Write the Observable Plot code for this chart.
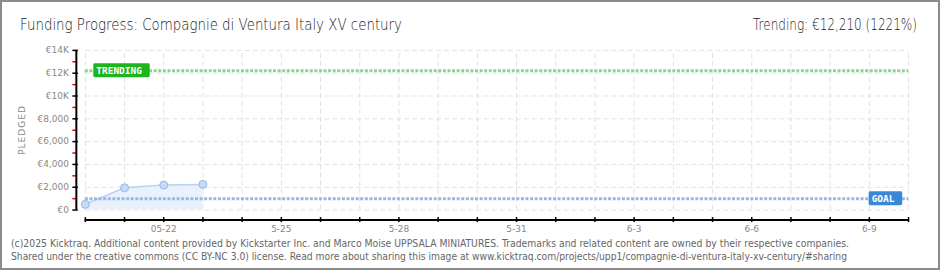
<!DOCTYPE html>
<html><head><meta charset="utf-8">
<script src="https://cdn.jsdelivr.net/npm/d3@7"></script>
<script src="https://cdn.jsdelivr.net/npm/@observablehq/plot@0.6"></script>
<style>
html,body{margin:0;padding:0;background:#fff;}
#wrap{position:relative;width:940px;height:270px;box-sizing:border-box;border:2px solid #8c8c8c;overflow:hidden;}
#chart{position:absolute;left:-2px;top:-2px;}
.t{position:absolute;white-space:nowrap;transform-origin:0 0;}
#title{left:18px;top:13px;font:200 16px "DejaVu Sans";color:#222;}
#trend{top:13px;font:200 16px "DejaVu Sans";color:#222;}
.foot{left:8px;font:10px "DejaVu Sans Condensed";color:#666;}
#ylab{font:9px "DejaVu Sans";color:#888;letter-spacing:1px;transform-origin:50% 50%;}
</style></head>
<body>
<div id="wrap">
<div id="chart"></div>
<div class="t" id="title">Funding Progress: Compagnie di Ventura Italy XV century</div>
<div class="t" id="trend">Trending: €12,210 (1221%)</div>
<div class="t foot" id="f1" style="top:236px">(c)2025 Kicktraq. Additional content provided by Kickstarter Inc. and Marco Moise UPPSALA MINIATURES. Trademarks and related content are owned by their respective companies.</div>
<div class="t foot" id="f2" style="top:249px">Shared under the creative commons (CC BY-NC 3.0) license. Read more about sharing this image at www.kicktraq.com/projects/upp1/compagnie-di-ventura-italy-xv-century/#sharing</div>
<div class="t" id="ylab">PLEDGED</div>
</div>
<script>
// ---- data ----
const dates = ["2025-05-20","2025-05-21","2025-05-22","2025-05-23"];
const pledged = [500, 1950, 2190, 2250];
const goal = 1000;
const trending = 12210;
const xStart = "2025-05-20";
const xEnd = "2025-06-10";
const xTickDates = ["2025-05-22","2025-05-25","2025-05-28","2025-05-31","2025-06-03","2025-06-06","2025-06-09"];
const xTickLabels = ["05-22","5-25","5-28","5-31","6-3","6-6","6-9"];
const yTicks = [0,2000,4000,6000,8000,10000,12000,14000];
const yTickLabels = ["€0","€2,000","€4,000","€6,000","€8,000","€10K","€12K","€14K"];
const yMinorTicks = [1000,3000,5000,7000,9000,11000,13000];

const parse = d3.utcParse("%Y-%m-%d");
const data = dates.map((d,i)=>({date:parse(d), value:pledged[i]}));
const x0 = parse(xStart), x1 = parse(xEnd);
const allDays = d3.utcDay.range(x0, d3.utcDay.offset(x1,1));
const xLabelMap = new Map(xTickDates.map((d,i)=>[+parse(d), xTickLabels[i]]));
const yLabelMap = new Map(yTicks.map((v,i)=>[v, yTickLabels[i]]));

const grid = {stroke:"#e2e2e2", strokeDasharray:"5,3", strokeWidth:1};
const tickFont = {fontFamily:"DejaVu Sans", fontSize:9, fill:"#888"};

const chart = Plot.plot({
  width: 940, height: 270,
  marginLeft: 76, marginRight: 30, marginTop: 50, marginBottom: 50,
  insetLeft: 9, insetBottom: 10,
  x: {type:"utc", domain:[x0, x1], label:null},
  y: {domain:[0,14000], label:null},
  style: {background:"transparent", overflow:"visible"},
  marks: [
    Plot.ruleX(allDays, {y1:0, y2:14000, ...grid}),
    Plot.ruleY(yTicks, {x1:x0, x2:x1, ...grid}),
    Plot.areaY(data, {x:"date", y:"value", fill:"#e8f1fc"}),
    Plot.lineY(data, {x:"date", y:"value", stroke:"#b7d3f3", strokeWidth:1.5}),
    Plot.ruleY([goal], {x1:x0, x2:x1, stroke:"#92b9e8", strokeWidth:3, strokeDasharray:"3,1.6"}),
    Plot.ruleY([trending], {x1:x0, x2:x1, stroke:"#8ad68a", strokeWidth:3, strokeDasharray:"3,1.6"}),
    Plot.dot(data, {x:"date", y:"value", r:4, fill:"#c6dcf6", stroke:"#92b8e6", strokeWidth:1}),
    Plot.text([trending], {x:()=>x0, y:d=>d, text:()=>"TRENDING", textAnchor:"start", dx:11, fill:"white",
      fontFamily:"DejaVu Sans Mono", fontSize:9.5, fontWeight:"bold", ariaLabel:()=>"trend-label"}),
    Plot.text([goal], {x:()=>x1, y:d=>d, text:()=>"GOAL", textAnchor:"start", dx:-37, fill:"white",
      fontFamily:"DejaVu Sans Mono", fontSize:9.5, fontWeight:"bold", ariaLabel:()=>"goal-label"}),
    // axes
    Plot.axisY(yTicks, {tickSize:5.5, dx:2, tickPadding:4, tickFormat:d=>yLabelMap.get(d), stroke:"#000", strokeWidth:1.5, label:null, ...tickFont}),
    Plot.axisY(yMinorTicks, {tickSize:3.5, tickFormat:()=>"", stroke:"#e00", strokeWidth:1.5, label:null}),
    Plot.axisX(allDays, {tickSize:5, dy:-2.5, tickPadding:3, tickFormat:d=>xLabelMap.get(+d) ?? "", stroke:"#000", strokeWidth:1.5, label:null, ...tickFont}),
    Plot.ruleX([x0], {y1:0, y2:14000, dx:-9, stroke:"#000", strokeWidth:2}),
    Plot.ruleY([0], {x1:x0, x2:x1, dy:10, stroke:"#000", strokeWidth:2})
  ]
});
document.getElementById("chart").appendChild(chart);

// label boxes behind label texts
function boxes(label, color){
  chart.querySelectorAll(`[aria-label="${label}"]`).forEach(n=>{
    const texts = n.tagName.toLowerCase()==="text" ? [n] : [...n.querySelectorAll("text")];
    texts.forEach(t=>{
      const b = t.getBBox();
      const r = document.createElementNS("http://www.w3.org/2000/svg","rect");
      r.setAttribute("x", b.x-3); r.setAttribute("width", b.width+10.5);
      r.setAttribute("y", b.y+b.height/2-7); r.setAttribute("height", 14);
      r.setAttribute("rx", 1.5);
      r.setAttribute("fill", color);
      const tr = t.getAttribute("transform");
      if (tr) r.setAttribute("transform", tr);
      t.parentNode.insertBefore(r, t);
    });
  });
}
boxes("trend-label", "#1db41d");
boxes("goal-label", "#3b87d7");

// fit text widths to reference
function fit(id, left, right){
  const el = document.getElementById(id);
  const w = el.getBoundingClientRect().width;
  el.style.left = (left-2)+"px";
  el.style.transform = `scaleX(${(right-left)/w})`;
}
fit("title", 20, 402);
fit("trend", 753, 917);
fit("f1", 11, 849);
fit("f2", 11, 847);
const yl = document.getElementById("ylab");
const yw = yl.getBoundingClientRect().width, yh = yl.getBoundingClientRect().height;
yl.style.left = (22 - yw/2 - 2)+"px";
yl.style.top = (130 - yh/2 - 2)+"px";
yl.style.transform = "rotate(-90deg)";
</script>
</body></html>
